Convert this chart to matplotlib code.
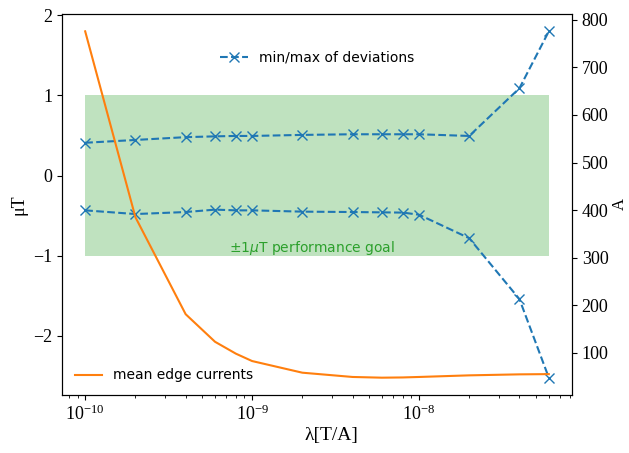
import matplotlib
matplotlib.use("Agg")
import matplotlib.pyplot as plt
import numpy as np

lam = [1e-10, 2e-10, 4e-10, 6e-10, 8e-10, 1e-9, 2e-9, 4e-9, 6e-9, 8e-9, 1e-8, 2e-8, 4e-8, 6e-8]
dev_max = [0.41, 0.445, 0.48, 0.49, 0.495, 0.495, 0.508, 0.516, 0.516, 0.516, 0.516, 0.495, 1.09, 1.80]
dev_min = [-0.433, -0.479, -0.454, -0.424, -0.433, -0.433, -0.449, -0.454, -0.458, -0.461, -0.487, -0.78, -1.54, -2.52]
edge_current = [776, 385, 181, 123, 98, 82.5, 58, 49, 47.5, 48, 49, 52.4, 54.5, 55]
goal = 1.0

serif = ['Liberation Serif', 'DejaVu Serif']
fs_tick = 13
fs_label = 14

fig = plt.figure(figsize=(6.29, 4.53), dpi=100)
ax = fig.add_axes([62/629, 1-395/453, 510/629, 381/453])
ax2 = ax.twinx()

ax.fill_between([lam[0], lam[-1]], -goal, goal, color='C2', alpha=0.3, linewidth=0)
ax.text(2.3e-9, -0.9, r'$\pm1\mu$T performance goal', color='C2', ha='center', va='center', fontsize=10)
l1, = ax.plot(lam, dev_max, 'x--', color='C0', markersize=7, label='min/max of deviations')
ax.plot(lam, dev_min, 'x--', color='C0', markersize=7)
ax.set_xscale('log')
l2, = ax2.plot(lam, edge_current, '-', color='C1', label='mean edge currents')

ax.legend(handles=[l1], loc='upper center', bbox_to_anchor=(0.5, 1 - 24/381), frameon=False, fontsize=10)
ax2.legend(handles=[l2], loc='lower left', frameon=False, fontsize=10)

ax.set_xlabel('λ[T/A]', family=serif, fontsize=fs_label)
ax.xaxis.set_label_coords((331-62)/510, -(427-395)/381)
ax.set_ylabel('μT', family=serif, fontsize=13)
ax2.set_ylabel('A', family=serif, fontsize=12, labelpad=2)
ax2.set_yticks([100, 200, 300, 400, 500, 600, 700, 800])
ax.set_yticks([-2, -1, 0, 1, 2])
ax.set_xticks([1e-10, 1e-9, 1e-8])
for a in (ax, ax2):
    for lab in a.get_xticklabels() + a.get_yticklabels():
        lab.set_family(serif)
        lab.set_fontsize(fs_tick)

fig.savefig('out.png', dpi=100)
